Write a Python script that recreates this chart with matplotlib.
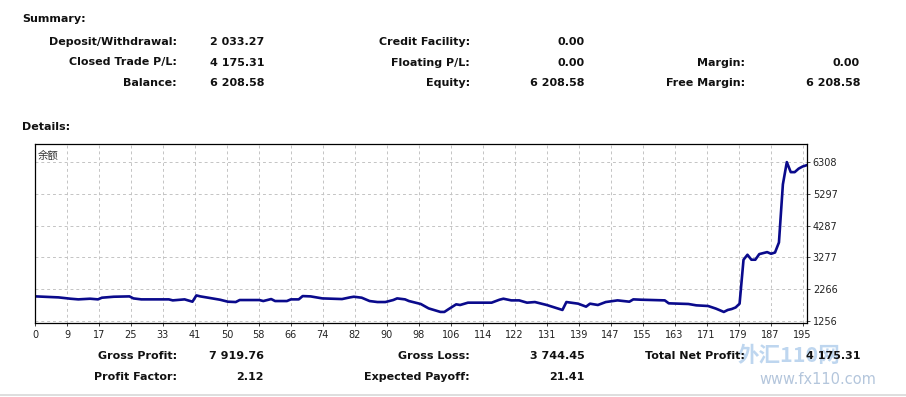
import numpy as np
import matplotlib
matplotlib.use("Agg")
import matplotlib.pyplot as plt

# balance curve (trade number -> balance)
trade_no = [0, 6, 9, 11, 14, 16, 17, 20, 24, 25, 27, 34, 35, 38, 40, 41, 42, 44,
            47, 49, 51, 52, 57, 58, 60, 61, 64, 65, 67, 68, 70, 73, 78, 80, 81,
            83, 85, 87, 89, 91, 92, 94, 95, 98, 100, 103, 104, 105, 107, 108,
            110, 116, 118, 119, 121, 123, 125, 127, 130, 134, 135, 138, 140,
            141, 143, 145, 148, 151, 152, 154, 160, 161, 166, 168, 171, 173,
            175, 176, 177, 178, 179, 180, 181, 182, 183, 184, 186, 187, 188,
            189, 190, 191, 192, 193, 194, 195, 196]
balance = [2033, 2000, 1958, 1937, 1958, 1937, 1990, 2021, 2032, 1968, 1937,
           1937, 1905, 1937, 1863, 2063, 2032, 1990, 1926, 1863, 1852, 1916,
           1916, 1884, 1947, 1884, 1884, 1937, 1937, 2042, 2032, 1968, 1947,
           2000, 2021, 1990, 1884, 1852, 1852, 1916, 1968, 1937, 1884, 1790,
           1650, 1537, 1537, 1620, 1779, 1758, 1832, 1832, 1926, 1958, 1905,
           1905, 1832, 1852, 1758, 1600, 1852, 1800, 1705, 1800, 1758, 1852,
           1905, 1863, 1937, 1926, 1905, 1811, 1790, 1747, 1726, 1642, 1537,
           1600, 1630, 1680, 1800, 3200, 3358, 3200, 3200, 3379, 3442, 3389,
           3430, 3750, 5600, 6308, 5989, 5989, 6100, 6168, 6208]

x_labels = ["0", "9", "17", "25", "33", "41", "50", "58", "66", "74", "82", "90",
            "98", "106", "114", "122", "131", "139", "147", "155", "163", "171",
            "179", "187", "195"]
y_ticks = [1256, 2266, 3277, 4287, 5297, 6308]

summary_left = [("Deposit/Withdrawal:", "2 033.27"),
                ("Closed Trade P/L:", "4 175.31"),
                ("Balance:", "6 208.58")]
summary_mid = [("Credit Facility:", "0.00"),
               ("Floating P/L:", "0.00"),
               ("Equity:", "6 208.58")]
summary_right = [("Margin:", "0.00"),
                 ("Free Margin:", "6 208.58")]
details_left = [("Gross Profit:", "7 919.76"), ("Profit Factor:", "2.12")]
details_mid = [("Gross Loss:", "3 744.45"), ("Expected Payoff:", "21.41")]
details_right = [("Total Net Profit:", "4 175.31")]

W, H = 906, 397
fig = plt.figure(figsize=(W / 100, H / 100), dpi=100)
fig.patch.set_facecolor("white")


def put(x, y, s, **kw):
    kw.setdefault("fontsize", 8)
    kw.setdefault("fontweight", "bold")
    kw.setdefault("color", "#111111")
    kw.setdefault("va", "center")
    fig.text(x / W, 1 - y / H, s, family=["DejaVu Sans"], **kw)


# watermark (drawn first so the text sits on top)
fig.text(789 / W, 1 - 356 / H, "外汇110网", family=["Noto Sans CJK SC", "DejaVu Sans"],
         fontsize=15.5, fontweight="bold", fontstyle="italic", color="#a9c9ea",
         ha="center", va="center", alpha=0.75)
fig.text(818 / W, 1 - 379 / H, "www.fx110.com", family=["DejaVu Sans"],
         fontsize=10.5, color="#b4c6dc", ha="center", va="center")

put(22, 19, "Summary:", ha="left")
for k, (lab, val) in enumerate(summary_left):
    put(177, 42 + k * 20.5, lab, ha="right")
    put(264, 42 + k * 20.5, val, ha="right")
for k, (lab, val) in enumerate(summary_mid):
    put(470, 42 + k * 20.5, lab, ha="right")
    put(585, 42 + k * 20.5, val, ha="right")
for k, (lab, val) in enumerate(summary_right):
    put(745, 62.5 + k * 20.5, lab, ha="right")
    put(860, 62.5 + k * 20.5, val, ha="right")

put(22, 127, "Details:", ha="left")
for k, (lab, val) in enumerate(details_left):
    put(177, 356 + k * 21, lab, ha="right")
    put(264, 356 + k * 21, val, ha="right")
for k, (lab, val) in enumerate(details_mid):
    put(470, 356 + k * 21, lab, ha="right")
    put(585, 356 + k * 21, val, ha="right")
for k, (lab, val) in enumerate(details_right):
    put(745, 356 + k * 21, lab, ha="right")
    put(860, 356 + k * 21, val, ha="right")

# chart box
left, right, top, bottom = 35, 806.5, 144, 323.3
ax = fig.add_axes([left / W, 1 - bottom / H, (right - left) / W, (bottom - top) / H])
ax.plot(trade_no, balance, color="#0a0a8c", lw=1.9, solid_joinstyle="round")
ax.set_xlim(0, 196)
ax.set_ylim(1175, 6885)

ax.set_xticks(np.linspace(0, 195, len(x_labels)))
ax.set_xticklabels(x_labels)
ax.set_yticks(y_ticks)
ax.set_yticklabels([str(v) for v in y_ticks])
ax.yaxis.tick_right()
ax.tick_params(axis="both", labelsize=7, colors="#222222", length=2.5, width=0.6, pad=2)
ax.grid(True, color="#c4c4c4", linestyle=(0, (3, 3)), linewidth=0.7)
for s in ax.spines.values():
    s.set_linewidth(0.9)
    s.set_color("black")

ax.text(0.004, 0.965, "余额", transform=ax.transAxes, fontsize=7.5,
        family=["Noto Sans CJK SC", "DejaVu Sans"], color="#333333",
        ha="left", va="top")

# thin separator at the very bottom
fig.add_artist(plt.Line2D([0, 1], [1 - 394.5 / H] * 2, color="#d8d8d8", lw=1.2))

fig.savefig("out.png", dpi=100, facecolor="white")
